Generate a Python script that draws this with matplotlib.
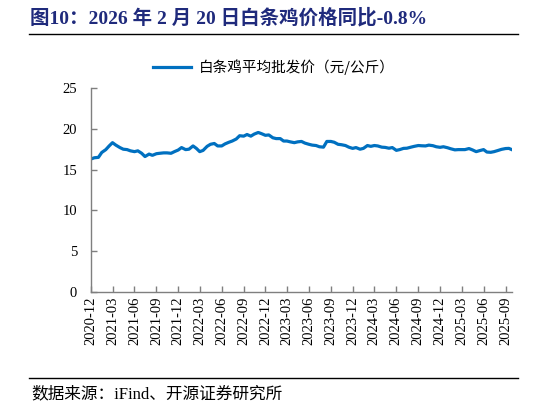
import matplotlib
matplotlib.use("Agg")
import matplotlib.pyplot as plt
import matplotlib.dates as mdates
from matplotlib.lines import Line2D
import pandas as pd

# ---- data (semi-monthly readings, 白条鸡平均批发价 元/公斤) ----
start_date = "2020-12-01"
prices = [
    16.3, 16.45, 16.5, 17.1, 17.45, 17.9, 18.3, 18.0, 17.7, 17.5,
    17.45, 17.3, 17.2, 17.3, 17.0, 16.6, 16.9, 16.75, 16.95, 17.0,
    17.05, 17.05, 17.0, 17.2, 17.4, 17.7, 17.45, 17.5, 17.9, 17.6,
    17.2, 17.35, 17.85, 18.1, 18.2, 17.9, 17.9, 18.15, 18.35, 18.5,
    18.75, 19.15, 19.1, 19.3, 19.1, 19.35, 19.55, 19.4, 19.2, 19.25,
    18.9, 18.8, 18.8, 18.5, 18.5, 18.4, 18.3, 18.4, 18.45, 18.25,
    18.1, 18.0, 17.95, 17.8, 17.75, 18.45, 18.45, 18.35, 18.1, 18.05,
    17.95, 17.75, 17.6, 17.7, 17.5, 17.6, 17.95, 17.85, 17.95, 17.9,
    17.75, 17.72, 17.62, 17.7, 17.36, 17.45, 17.6, 17.62, 17.75, 17.85,
    17.95, 17.92, 17.9, 18.0, 17.93, 17.8, 17.73, 17.8, 17.68, 17.55,
    17.42, 17.45, 17.45, 17.45, 17.58, 17.42, 17.2, 17.32, 17.45, 17.15,
    17.12, 17.2, 17.35, 17.48, 17.58, 17.6, 17.4,
]
dates = pd.date_range(start_date, periods=len(prices), freq="SMS")
series_name = "白条鸡平均批发价（元/公斤）"
title_text = "图10：2026 年 2 月 20 日白条鸡价格同比-0.8%"
source_text = "数据来源：iFind、开源证券研究所"
y_ticks = [0, 5, 10, 15, 20, 25]

W, H = 546, 408
fig = plt.figure(figsize=(W / 100, H / 100), dpi=100)
ax = fig.add_axes([91 / W, (H - 292) / H, (512 - 91) / W, (292 - 88) / H])

line_color = "#0070C0"
ax.plot(dates, prices, color=line_color, lw=2.3, label=series_name,
        solid_joinstyle="round")

ax.set_ylim(0, 25)
ax.set_yticks(y_ticks)
ax.set_xlim(pd.Timestamp("2020-12-01"), pd.Timestamp("2025-09-28"))
ax.xaxis.set_major_locator(mdates.MonthLocator(bymonth=[3, 6, 9, 12]))
ax.xaxis.set_major_formatter(mdates.DateFormatter("%Y-%m"))

serif = ["Liberation Serif", "Noto Sans CJK SC"]
for s in ["top", "right"]:
    ax.spines[s].set_visible(False)
for s in ["left", "bottom"]:
    ax.spines[s].set_color("#7f7f7f")
    ax.spines[s].set_linewidth(1.0)
ax.tick_params(axis="both", direction="in", length=4, width=1.0, color="#7f7f7f",
               labelsize=10.5, labelcolor="black")
ax.tick_params(axis="y", pad=10)
for lab in ax.get_xticklabels():
    lab.set_rotation(90)
    lab.set_family(serif)
for lab in ax.get_yticklabels():
    lab.set_family(serif)

fig.legend(loc="center", bbox_to_anchor=(274 / W, 1 - 67 / H), frameon=False,
           handlelength=2.6, handletextpad=0.5,
           prop={"family": ["Noto Sans CJK SC"], "size": 10.5})

fig.text(30 / W, 1 - 18 / H, title_text, ha="left", va="center",
         fontsize=14, fontweight="bold", color="#1F2A7C", family=serif)
fig.add_artist(Line2D([29 / W, 518 / W], [1 - 34 / H, 1 - 34 / H],
                      color="black", lw=1.0))
fig.add_artist(Line2D([29 / W, 518 / W], [1 - 378 / H, 1 - 378 / H],
                      color="black", lw=1.0))
fig.text(31 / W, 1 - 394 / H, source_text, ha="left", va="center",
         fontsize=12, color="black", family=serif)

fig.savefig("out.png", dpi=100)
